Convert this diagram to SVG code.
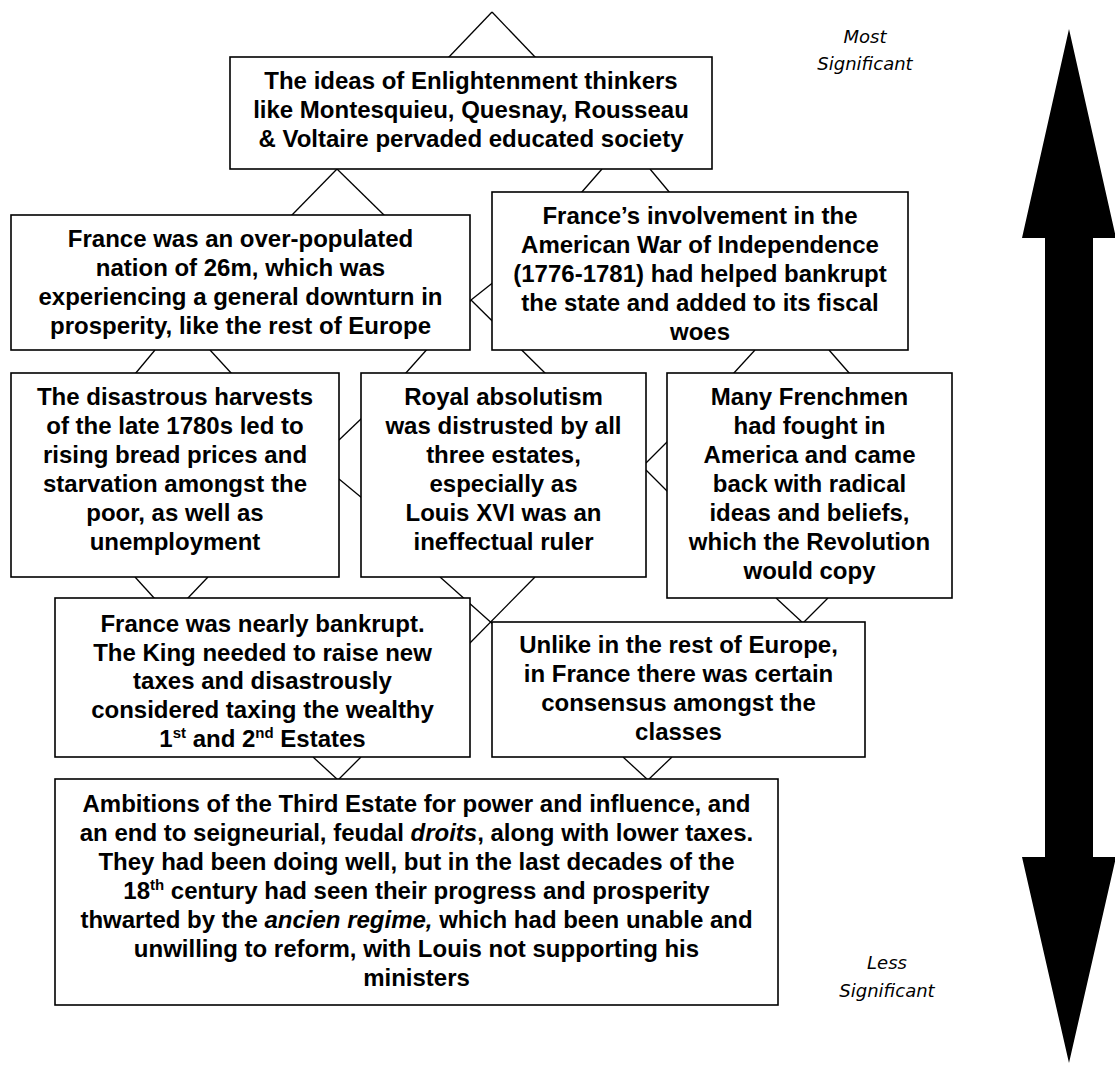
<svg xmlns="http://www.w3.org/2000/svg" width="1115" height="1066" viewBox="0 0 1115 1066">
<style>
.box{fill:#fff;stroke:#000;stroke-width:1.6}
.c{stroke:#000;stroke-width:1.3;fill:none}
.t{font-family:"Liberation Sans",Arial,sans-serif;font-weight:bold;font-size:24px;text-anchor:middle;fill:#000}
.sup{font-size:15px}
.lbl{font-family:"DejaVu Sans",sans-serif;font-style:italic;font-size:18px;text-anchor:middle;fill:#000}
</style>
<rect width="1115" height="1066" fill="#fff"/>
<g id="connectors">
<line class="c" x1="492" y1="12" x2="448" y2="58"/>
<line class="c" x1="492" y1="12" x2="536" y2="58"/>
<line class="c" x1="337" y1="169" x2="291" y2="216"/>
<line class="c" x1="337" y1="169" x2="385" y2="216"/>
<line class="c" x1="602" y1="169" x2="581" y2="193"/>
<line class="c" x1="650" y1="169" x2="670" y2="193"/>
<line class="c" x1="471" y1="300" x2="495" y2="281"/>
<line class="c" x1="471" y1="300" x2="405" y2="374"/>
<line class="c" x1="471" y1="300" x2="546" y2="374"/>
<line class="c" x1="155" y1="350" x2="135" y2="374"/>
<line class="c" x1="210" y1="350" x2="232" y2="374"/>
<line class="c" x1="755" y1="350" x2="733" y2="374"/>
<line class="c" x1="829" y1="350" x2="850" y2="374"/>
<line class="c" x1="339" y1="440" x2="362" y2="418"/>
<line class="c" x1="339" y1="479" x2="362" y2="498"/>
<line class="c" x1="646" y1="463" x2="668" y2="441"/>
<line class="c" x1="646" y1="470" x2="668" y2="492"/>
<line class="c" x1="135" y1="577" x2="155" y2="599"/>
<line class="c" x1="208" y1="577" x2="187" y2="599"/>
<line class="c" x1="440" y1="577" x2="495" y2="626"/>
<line class="c" x1="535" y1="577" x2="466" y2="647"/>
<line class="c" x1="776" y1="598" x2="803" y2="623"/>
<line class="c" x1="828" y1="598" x2="803" y2="623"/>
<line class="c" x1="313" y1="757" x2="338" y2="780"/>
<line class="c" x1="361" y1="757" x2="338" y2="780"/>
<line class="c" x1="623" y1="757" x2="648" y2="780"/>
<line class="c" x1="672" y1="757" x2="648" y2="780"/>
</g>
<g id="n1">
<rect class="box" x="230" y="57" width="482" height="112"/>
<text class="t"><tspan x="471" y="89">The ideas of Enlightenment thinkers</tspan><tspan x="471" y="118">like Montesquieu, Quesnay, Rousseau</tspan><tspan x="471" y="147">&amp; Voltaire pervaded educated society</tspan></text>
</g>
<g id="n2">
<rect class="box" x="11" y="215" width="459" height="135"/>
<text class="t"><tspan x="240.5" y="247">France was an over-populated</tspan><tspan x="240.5" y="276">nation of 26m, which was</tspan><tspan x="240.5" y="305">experiencing a general downturn in</tspan><tspan x="240.5" y="334">prosperity, like the rest of Europe</tspan></text>
</g>
<g id="n3">
<rect class="box" x="492" y="192" width="416" height="158"/>
<text class="t"><tspan x="700" y="224">France’s involvement in the</tspan><tspan x="700" y="253">American War of Independence</tspan><tspan x="700" y="282">(1776-1781) had helped bankrupt</tspan><tspan x="700" y="311">the state and added to its fiscal</tspan><tspan x="700" y="340">woes</tspan></text>
</g>
<g id="n4">
<rect class="box" x="11" y="373" width="328" height="204"/>
<text class="t"><tspan x="175" y="405">The disastrous harvests</tspan><tspan x="175" y="434">of the late 1780s led to</tspan><tspan x="175" y="463">rising bread prices and</tspan><tspan x="175" y="492">starvation amongst the</tspan><tspan x="175" y="521">poor, as well as</tspan><tspan x="175" y="550">unemployment</tspan></text>
</g>
<g id="n5">
<rect class="box" x="361" y="373" width="285" height="204"/>
<text class="t"><tspan x="503.5" y="405">Royal absolutism</tspan><tspan x="503.5" y="434">was distrusted by all</tspan><tspan x="503.5" y="463">three estates,</tspan><tspan x="503.5" y="492">especially as</tspan><tspan x="503.5" y="521">Louis XVI was an</tspan><tspan x="503.5" y="550">ineffectual ruler</tspan></text>
</g>
<g id="n6">
<rect class="box" x="667" y="373" width="285" height="225"/>
<text class="t"><tspan x="809.5" y="405">Many Frenchmen</tspan><tspan x="809.5" y="434">had fought in</tspan><tspan x="809.5" y="463">America and came</tspan><tspan x="809.5" y="492">back with radical</tspan><tspan x="809.5" y="521">ideas and beliefs,</tspan><tspan x="809.5" y="550">which the Revolution</tspan><tspan x="809.5" y="579">would copy</tspan></text>
</g>
<g id="n7">
<rect class="box" x="55" y="598" width="415" height="159"/>
<text class="t"><tspan x="262.5" y="632">France was nearly bankrupt.</tspan><tspan x="262.5" y="661">The King needed to raise new</tspan><tspan x="262.5" y="689">taxes and disastrously</tspan><tspan x="262.5" y="718">considered taxing the wealthy</tspan></text>
<text class="t" x="262.5" y="747">1<tspan class="sup" dy="-9">st</tspan><tspan dy="9"> and 2</tspan><tspan class="sup" dy="-9">nd</tspan><tspan dy="9"> Estates</tspan></text>
</g>
<g id="n8">
<rect class="box" x="492" y="622" width="373" height="135"/>
<text class="t"><tspan x="678.5" y="653">Unlike in the rest of Europe,</tspan><tspan x="678.5" y="682">in France there was certain</tspan><tspan x="678.5" y="711">consensus amongst the</tspan><tspan x="678.5" y="740">classes</tspan></text>
</g>
<g id="n9">
<rect class="box" x="55" y="779" width="723" height="226"/>
<text class="t" x="416.5" y="812">Ambitions of the Third Estate for power and influence, and</text>
<text class="t" x="416.5" y="841">an end to seigneurial, feudal <tspan font-style="italic">droits</tspan>, along with lower taxes.</text>
<text class="t" x="416.5" y="870">They had been doing well, but in the last decades of the</text>
<text class="t" x="416.5" y="899">18<tspan class="sup" dy="-9">th</tspan><tspan dy="9"> century had seen their progress and prosperity</tspan></text>
<text class="t" x="416.5" y="928">thwarted by the <tspan font-style="italic">ancien regime,</tspan> which had been unable and</text>
<text class="t" x="416.5" y="957">unwilling to reform, with Louis not supporting his</text>
<text class="t" x="416.5" y="986">ministers</text>
</g>
<g id="scale">
<polygon points="1069,29 1116,238 1093,238 1093,857 1116,857 1069,1063 1022,857 1045,857 1045,238 1022,238" fill="#000"/>
<text class="lbl" x="865" y="43">Most</text>
<text class="lbl" x="865" y="70">Significant</text>
<text class="lbl" x="887" y="969">Less</text>
<text class="lbl" x="887" y="997">Significant</text>
</g>
</svg>
